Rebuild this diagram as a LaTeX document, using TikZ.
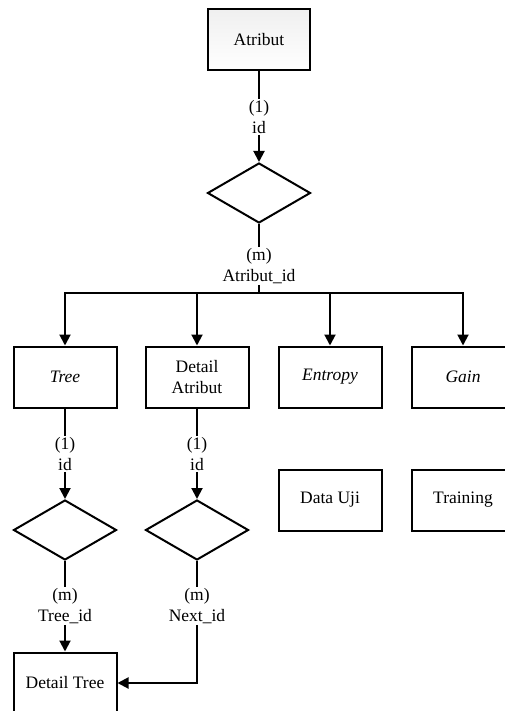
\documentclass[tikz,border=0pt]{standalone}
\usepackage{fontspec}
\setmainfont{Liberation Serif}
\usetikzlibrary{shapes.geometric, arrows.meta, positioning}

\begin{document}
\begin{tikzpicture}[
    x=1pt, y=-1pt,
    node distance=33pt and 29pt,
    font=\fontsize{17.5}{21}\selectfont,
    entity/.style={rectangle, minimum width=103pt, minimum height=61pt, text centered, align=center, draw=black, line width=2pt, inner sep=2pt},
    relation/.style={diamond, minimum width=103pt, minimum height=60pt, inner sep=0pt, draw=black, line width=2pt},
    card/.style={fill=white, align=center, inner sep=1pt},
    arrow/.style={-{Triangle[length=11pt, width=11pt]}, line width=2pt},
    link/.style={line width=2pt}
]
\useasboundingbox (0,0) rectangle (504,711);

% Top entity
\node (atribut) [entity, minimum width=102pt, shading=axis, top color=gray!12, bottom color=white] at (259,40) {Atribut};
\node (rel_atr) [relation] at (259,193) {};
\node (card_atr) [card] at (259,117) {(1)\\id};
\node (card_atrm) [card] at (259,266) {(m)\\Atribut\_id};
\coordinate (bus) at (259,293);

% Row of entities
\node (tree) [entity] at (65,377) {\textit{Tree}};
\node (det_atr) [entity] at (197,377) {Detail\\Atribut};
\node (entropy) [entity] at (330,377) {\textit{Entropy}};
\node (gain) [entity] at (463,377) {\textit{Gain}};

% Stand-alone entities
\node (data_uji) [entity] at (330,500) {Data Uji};
\node (training) [entity] at (463,500) {Training};

% Relations below Tree and Detail Atribut
\node (rel_tree) [relation] at (65,530) {};
\node (rel_det) [relation] at (197,530) {};
\node (card_tree) [card] at (65,454) {(1)\\id};
\node (card_det) [card] at (197,454) {(1)\\id};
\node (card_treem) [card] at (65,606) {(m)\\Tree\_id};
\node (card_detm) [card] at (197,606) {(m)\\Next\_id};

\node (det_tree) [entity] at (65,683) {Detail Tree};

% Connectors
\draw [link] (atribut) -- (card_atr);
\draw [arrow] (card_atr) -- (rel_atr);
\draw [link] (rel_atr) -- (card_atrm);
\draw [link] (card_atrm) -- (bus);
\draw [link, line cap=rect] (tree.north |- bus) -- (gain.north |- bus);
\foreach \ent in {tree, det_atr, entropy, gain}
    \draw [arrow] (\ent.north |- bus) -- (\ent.north);

\draw [link] (tree) -- (card_tree);
\draw [arrow] (card_tree) -- (rel_tree);
\draw [link] (rel_tree) -- (card_treem);
\draw [arrow] (card_treem) -- (det_tree);

\draw [link] (det_atr) -- (card_det);
\draw [arrow] (card_det) -- (rel_det);
\draw [link] (rel_det) -- (card_detm);
\draw [arrow] (card_detm) |- (det_tree);

\end{tikzpicture}
\end{document}
